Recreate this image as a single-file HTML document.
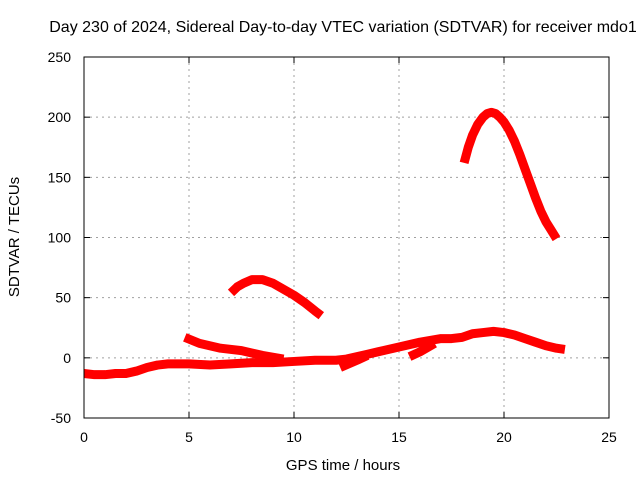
<!DOCTYPE html>
<html><head><meta charset="utf-8"><style>
body{margin:0;background:#fff}
svg{display:block;font-family:"Liberation Sans",sans-serif}
</style></head><body>
<svg id="chart" width="640" height="480">
<rect width="640" height="480" fill="#fff"/>
<text x="343" y="32" font-size="16" text-anchor="middle">Day 230 of 2024, Sidereal Day-to-day VTEC variation (SDTVAR) for receiver mdo1</text>
<text x="343" y="470" font-size="15" text-anchor="middle">GPS time / hours</text>
<text transform="translate(19,237) rotate(-90)" font-size="15" text-anchor="middle">SDTVAR / TECUs</text>
<g id="grid"></g><g id="series"></g><g id="axes"></g>
</svg>
<script>
const xTicks=[0,5,10,15,20,25];
const yTicks=[-50,0,50,100,150,200,250];
const baseHours=[0,0.5,1,1.5,2,2.5,3,3.5,4,5,6,7,8,9,10,11,12,12.5,13,13.5,14,15,16,17,17.5,18,18.5,19,19.5,20,20.5,21,21.5,22,22.5,22.9];
const baseVals=[-13,-14,-14,-13,-13,-11,-8,-6,-5,-5,-6,-5,-4,-4,-3,-2,-2,-1,1,3,5,9,13,16,16,17,20,21,22,21,19,16,13,10,8,7];
const declineHours=[4.8,5.5,6.5,7.5,8.5,9.5];
const declineVals=[17,12,8,6,2,-1];
const humpHours=[7,7.3,7.6,8,8.5,9,9.5,10,10.5,11,11.3];
const humpVals=[54,59,62,65,65,62,57,52,46,39,35];
const peakHours=[18.1,18.3,18.5,18.75,19,19.2,19.4,19.6,19.8,20,20.25,20.5,20.75,21,21.25,21.5,21.75,22,22.25,22.5];
const peakVals=[162,175,185,194,200,203,204,203,200,196,189,180,169,157,145,133,122,113,106,99];
const dipHours=[12.2,12.6,13,13.5];
const dipVals=[-8,-5,-2,2];
const smallHours=[15.5,16,16.7];
const smallVals=[1,5,12];
const x0=84,x1=609,yTop=57,yBot=418;
const X=h=>x0+(h-0)/(25-0)*(x1-x0);
const Y=v=>yBot-(v+50)/300*(yBot-yTop);
const NS="http://www.w3.org/2000/svg";
const grid=document.getElementById('grid'),axes=document.getElementById('axes'),ser=document.getElementById('series');
function mk(tag,attrs,parent){const e=document.createElementNS(NS,tag);for(const k in attrs)e.setAttribute(k,attrs[k]);parent.appendChild(e);return e;}
xTicks.forEach(t=>{
 if(t>0&&t<25){const g=mk('line',{x1:X(t),x2:X(t),y1:yTop,y2:yBot,stroke:'#a0a0a0','stroke-dasharray':'2,4'},grid);
 
 }
 const l=mk('text',{x:X(t),y:yBot+24,'font-size':14,'text-anchor':'middle'},axes);l.textContent=t;
 
 
 mk('line',{x1:X(t),x2:X(t),y1:yBot,y2:yBot-6,stroke:'#000'},axes);
 mk('line',{x1:X(t),x2:X(t),y1:yTop,y2:yTop+6,stroke:'#000'},axes);
});
yTicks.forEach(t=>{
 if(t>-50&&t<250){const g=mk('line',{x1:x0,x2:x1,y1:Y(t),y2:Y(t),stroke:'#a0a0a0','stroke-dasharray':'2,4'},grid);
 
 }
 const l=mk('text',{x:x0-13,y:Y(t)+5,'font-size':14,'text-anchor':'end'},axes);l.textContent=t;
 
 
 mk('line',{x1:x0,x2:x0+6,y1:Y(t),y2:Y(t),stroke:'#000'},axes);
 mk('line',{x1:x1,x2:x1-6,y1:Y(t),y2:Y(t),stroke:'#000'},axes);
});
const fr=mk('rect',{x:x0,y:yTop,width:x1-x0,height:yBot-yTop,fill:'none',stroke:'#000'},axes);


function series(hs,vs,name){
 const p=mk('polyline',{points:hs.map((h,i)=>X(h)+','+Y(vs[i])).join(' '),fill:'none',stroke:'#f00','stroke-width':9,'stroke-linejoin':'round'},ser);
 
 
}
series(baseHours,baseVals,'baseline-series');
series(declineHours,declineVals,'decline-series');
series(humpHours,humpVals,'morning-hump-series');
series(peakHours,peakVals,'evening-peak-series');
series(dipHours,dipVals,'dip-series');
series(smallHours,smallVals,'small-segment-series');
</script>
</body></html>
